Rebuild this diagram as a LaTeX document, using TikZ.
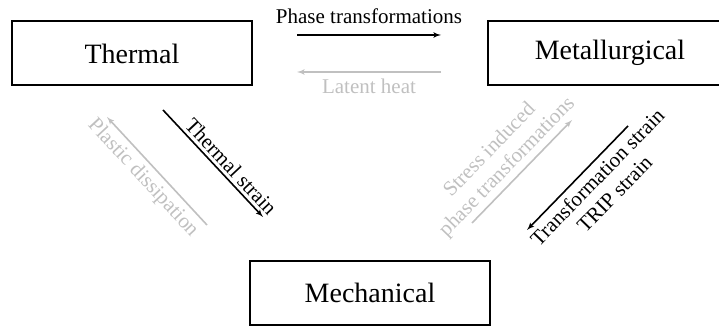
\documentclass[tikz,border=0pt]{standalone}
\usepackage{fontspec}
\setmainfont{Liberation Serif}
\usepackage{xcolor}
\usepackage{tikz}
\usetikzlibrary{positioning}
\usetikzlibrary{arrows}
\definecolor{lightgr}{RGB}{192,192,192}
\tikzstyle{physbox} = [draw, line width=2pt, minimum width=240pt, minimum height=64pt, inner sep=0pt, font=\fontsize{28}{32}\selectfont]
\tikzstyle{line} = [draw, line width=1.6pt, -latex']
\tikzstyle{faint} = [line, draw=lightgr]
\tikzstyle{lbl} = [font=\fontsize{21}{24}\selectfont, align=center, inner sep=3pt]

\begin{document}
\begin{tikzpicture}[x=1pt, y=1pt]
	\useasboundingbox (0, 0) rectangle (719, 326);
	\node[physbox] (thermal) at (132, 272.5) {Thermal};
	\node[physbox, minimum width=244pt] (metal) at (610, 273) {Metallurgical};
	\node[physbox] (mech) at (370, 33) {Mechanical};
	
	% top pair
	\coordinate (pt1) at (297, 291);
	\coordinate (pt2) at (441, 291);
	\coordinate (lh1) at (441, 254);
	\coordinate (lh2) at (297, 254);
	\path[line] (pt1) -- (pt2) node[lbl, midway, above=7pt] {Phase transformations};
	\path[faint] (lh1) -- (lh2) node[lbl, midway, below=3pt, text=lightgr] {Latent heat};
	
	% left pair
	\coordinate (ts1) at (163, 216);
	\coordinate (ts2) at (263, 109);
	\coordinate (pd1) at (107, 209);
	\coordinate (pd2) at (207, 101);
	\path[line] (ts1) -- (ts2) node[lbl, pos=0.6, sloped, above] {Thermal strain};
	\path[faint, latex'-] (pd1) -- (pd2) node[lbl, pos=0.47, sloped, below=2pt, text=lightgr] {Plastic dissipation};
	
	% right pair
	\coordinate (si1) at (472, 103);
	\coordinate (si2) at (572, 206);
	\coordinate (tr1) at (527, 96);
	\coordinate (tr2) at (628, 200);
	\path[faint] (si1) -- (si2) node[lbl, pos=0.45, sloped, above, text=lightgr] {Stress induced\\phase transformations};
	\path[line, latex'-] (tr1) -- (tr2) node[lbl, pos=0.6, sloped, below=2pt] {Transformation strain\\TRIP strain};
\end{tikzpicture}
\end{document}
